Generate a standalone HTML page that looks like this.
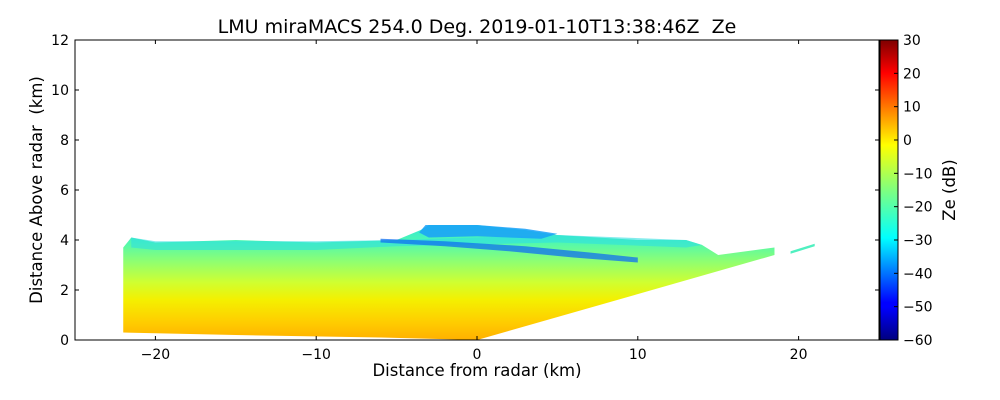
<!DOCTYPE html>
<html><head><meta charset="utf-8"><style>
html,body{margin:0;padding:0;background:#fff;width:1000px;height:400px;overflow:hidden}
svg text{font-family:"DejaVu Sans","Liberation Sans",sans-serif;fill:#000;white-space:pre}
</style></head><body>
<svg id="chart" width="1000" height="400" xmlns="http://www.w3.org/2000/svg">
<defs>
<linearGradient id="bodyGrad" x1="0" y1="1" x2="0" y2="0">
<stop offset="0" stop-color="#ffb000"/>
<stop offset="0.15" stop-color="#ffcc00"/>
<stop offset="0.35" stop-color="#f4f000"/>
<stop offset="0.5" stop-color="#d0ff30"/>
<stop offset="0.68" stop-color="#90ff70"/>
<stop offset="0.85" stop-color="#50f8b0"/>
<stop offset="1" stop-color="#30e8d8"/>
</linearGradient>
<linearGradient id="jet" x1="0" y1="1" x2="0" y2="0">
<stop offset="0" stop-color="#00007f"/>
<stop offset="0.11" stop-color="#0000ff"/>
<stop offset="0.125" stop-color="#0000ff"/>
<stop offset="0.34" stop-color="#00ffff"/>
<stop offset="0.5" stop-color="#7fff7f"/>
<stop offset="0.65" stop-color="#ffff00"/>
<stop offset="0.89" stop-color="#ff0000"/>
<stop offset="1" stop-color="#7f0000"/>
</linearGradient>
</defs>
<g id="plot"></g>
</svg>
<script>
const xTicks=[-20,-10,0,10,20];
const yTicks=[0,2,4,6,8,10,12];
const cbTicks=[-60,-50,-40,-30,-20,-10,0,10,20,30];
const mainEchoX=[-22,-22,-21.5,-20,-15,-10,-5,-3.5,-3,0,3,5,10,13,14,15,18.5,18.5,0,-6,-15];
const mainEchoY=[0.3,3.7,4.1,3.9,4.0,3.9,4.0,4.4,4.6,4.6,4.4,4.2,4.0,4.0,3.8,3.4,3.7,3.4,0,0.1,0.2];
const capX=[-3.6,-3.2,0,3,5,4,0,-3];
const capY=[4.3,4.6,4.6,4.45,4.25,4.05,4.15,4.1];
const streakBlueX=[-6,-2,3,7,10,10,6,2,-2,-6];
const streakBlueY=[4.05,3.95,3.75,3.5,3.3,3.1,3.3,3.55,3.75,3.9];
const topFringeX=[-21.5,-20,-10,-5,5,13,14,13,5,-5,-10,-20,-21.5];
const topFringeY=[4.1,3.95,3.95,4.0,4.2,4.0,3.8,3.7,3.9,3.75,3.6,3.6,3.7];
const streakX=[19.5,21,21,19.5];
const streakY=[3.55,3.85,3.75,3.45];

const L=75,R=879,T=40,B=340;
const X=v=>L+(v+25)/50*(R-L);
const Y=v=>B-v/12*(B-T);
const CB=v=>B-(v+60)/90*(B-T);
const NS="http://www.w3.org/2000/svg";
const g=document.getElementById('plot');
function mk(tag,attrs,parent){const e=document.createElementNS(NS,tag);for(const k in attrs)e.setAttribute(k,attrs[k]);(parent||g).appendChild(e);return e;}
function poly(xs,ys,fill,name,op){
  const pts=xs.map((x,i)=>X(x)+','+Y(ys[i])).join(' ');
  const p=mk('polygon',{points:pts,fill:fill,'fill-opacity':op||1});
  
  
}
poly(mainEchoX,mainEchoY,'url(#bodyGrad)','main-echo');
poly(topFringeX,topFringeY,'#30e0e0','top-fringe',0.6);
poly(capX,capY,'#1aa0f8','cloud-cap',0.85);
poly(streakBlueX,streakBlueY,'#1070f0','blue-streak',0.75);
poly(streakX,streakY,'#50f0c0','far-streak');

const frame=mk('rect',{x:L,y:T,width:R-L,height:B-T,fill:'none',stroke:'#000','stroke-width':1});



xTicks.forEach(v=>{
  mk('line',{x1:X(v),x2:X(v),y1:B,y2:B-4,stroke:'#000'});
  mk('line',{x1:X(v),x2:X(v),y1:T,y2:T+4,stroke:'#000'});
  const t=mk('text',{x:X(v),y:B+19,'text-anchor':'middle','font-size':14});
  t.textContent=(v<0?'\u2212'+(-v):v);
  
  
});
yTicks.forEach(v=>{
  mk('line',{x1:L,x2:L+4,y1:Y(v),y2:Y(v),stroke:'#000'});
  mk('line',{x1:R,x2:R-4,y1:Y(v),y2:Y(v),stroke:'#000'});
  const t=mk('text',{x:L-6,y:Y(v)+5,'text-anchor':'end','font-size':14});
  t.textContent=v;
  
  
});
const cb=mk('rect',{x:880,y:T,width:18,height:B-T,fill:'url(#jet)',stroke:'#000'});


cbTicks.forEach(v=>{
  mk('line',{x1:894,x2:898,y1:CB(v),y2:CB(v),stroke:'#000'});
  const t=mk('text',{x:903,y:CB(v)+5,'font-size':14});
  t.textContent=(v<0?'\u2212'+(-v):v);
  
  
});
let t=mk('text',{x:477,y:33,'text-anchor':'middle','font-size':19});
t.textContent='LMU miraMACS 254.0 Deg. 2019-01-10T13:38:46Z  Ze';


t=mk('text',{x:477,y:376,'text-anchor':'middle','font-size':16.5});
t.textContent='Distance from radar (km)';


t=mk('text',{x:42,y:190,'text-anchor':'middle','font-size':16.5,transform:'rotate(-90 42 190)'});
t.textContent='Distance Above radar  (km)';


t=mk('text',{x:955,y:190,'text-anchor':'middle','font-size':16.5,transform:'rotate(-90 955 190)'});
t.textContent='Ze (dB)';


</script>
</body></html>
